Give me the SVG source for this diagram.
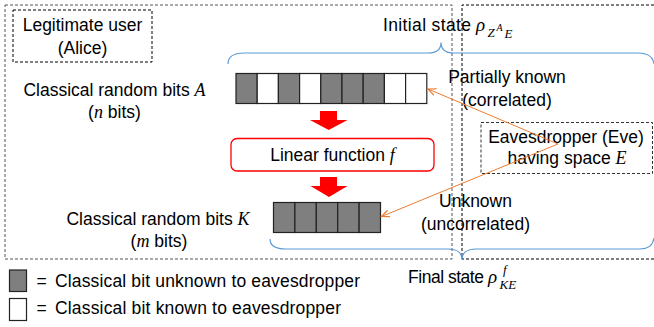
<svg xmlns="http://www.w3.org/2000/svg" width="654" height="327" viewBox="0 0 654 327">
<style>
.t{font-family:"Liberation Sans",Arial,sans-serif;font-size:17.5px;fill:#000}
.m{font-family:"Liberation Serif","Times New Roman",serif;font-style:italic;fill:#000}
.dash{fill:none;stroke:#333;stroke-width:1;stroke-dasharray:3 2}
.g{fill:#7f7f7f;stroke:#222;stroke-width:1.2}
.w{fill:#fff;stroke:#222;stroke-width:1.2}
.brace{fill:none;stroke:#5b9bd5;stroke-width:1.2}
.red{fill:#ff0000}
.conn{fill:none;stroke:#ed7d31;stroke-width:1}
</style>
<defs>
<marker id="ah" markerUnits="userSpaceOnUse" markerWidth="10" markerHeight="10" refX="8" refY="4" orient="auto">
<path d="M0,0.5 L8,4 L0,7.5" fill="none" stroke="#ed7d31" stroke-width="1.2"/>
</marker>
</defs>

<g id="alice-region">
<rect class="dash" x="5" y="5" width="447" height="254" style="stroke:#555"/>
</g>
<g id="eve-region">
<path class="dash" d="M654,5 L462,5 L462,259 L654,259" style="stroke:#000"/>
</g>

<g id="legitimate-user">
<rect class="dash" x="13" y="10" width="139" height="52" style="stroke:#000"/>
<text class="t" x="82.5" y="31" text-anchor="middle">Legitimate user</text>
<text class="t" x="82.5" y="54" text-anchor="middle">(Alice)</text>
</g>

<g id="label-A">
<text class="t" x="114.5" y="96" text-anchor="middle">Classical random bits <tspan class="m" font-size="18">A</tspan></text>
<text class="t" x="114.5" y="118" text-anchor="middle">(<tspan class="m" font-size="18">n</tspan> bits)</text>
</g>

<g id="bits-A">
<rect class="g" x="236" y="73.5" width="21.2" height="30"/>
<rect class="w" x="257.2" y="73.5" width="21.2" height="30"/>
<rect class="g" x="278.4" y="73.5" width="21.2" height="30"/>
<rect class="w" x="299.6" y="73.5" width="21.2" height="30"/>
<rect class="g" x="320.8" y="73.5" width="21.2" height="30"/>
<rect class="g" x="342" y="73.5" width="21.2" height="30"/>
<rect class="g" x="363.2" y="73.5" width="21.2" height="30"/>
<rect class="w" x="384.4" y="73.5" width="21.2" height="30"/>
<rect class="w" x="405.6" y="73.5" width="21.2" height="30"/>
</g>

<g id="arrow-1">
<polygon class="red" points="320,111 337,111 337,120 347.5,120 328.7,130 310,120 320,120"/>
</g>

<g id="linear-function">
<rect x="231" y="138.5" width="203" height="32.5" rx="6" ry="6" fill="#fff" stroke="#ff0000" stroke-width="1.3"/>
<text class="t" x="332.5" y="161" text-anchor="middle">Linear function <tspan class="m" font-size="18">f</tspan></text>
</g>

<g id="arrow-2">
<polygon class="red" points="320,177 337,177 337,186 347.5,186 329,197 310.5,186 320,186"/>
</g>

<g id="bits-K">
<rect class="g" x="273.5" y="202.5" width="21.4" height="30"/>
<rect class="g" x="294.9" y="202.5" width="21.4" height="30"/>
<rect class="g" x="316.3" y="202.5" width="21.4" height="30"/>
<rect class="g" x="337.7" y="202.5" width="21.4" height="30"/>
<rect class="g" x="359.1" y="202.5" width="21.4" height="30"/>
</g>

<g id="label-K">
<text class="t" x="158" y="225" text-anchor="middle">Classical random bits <tspan class="m" font-size="18">K</tspan></text>
<text class="t" x="159" y="247" text-anchor="middle">(<tspan class="m" font-size="18">m</tspan> bits)</text>
</g>

<g id="braces">
<path class="brace" d="M228,64 C228,57 233,53 244,53 L428,53 C437,53 441,49 441,42.5 C441,49 445,53 454,53 L638,53 C648,53 653,57 654,64"/>
<path class="brace" d="M270,239 C270,246 275,249 286,249 L448,249 C457,249 462,253 462,259.5 C462,253 467,249 476,249 L640,249 C648,249 653,245 654,238"/>
</g>

<g id="initial-state">
<text class="t" x="383" y="31" textLength="88" lengthAdjust="spacing">Initial state</text>
<text class="m" x="476" y="31" font-size="19">ρ</text>
<text class="m" x="487.5" y="36.5" font-size="13">Z</text>
<text class="m" x="496.5" y="31" font-size="10">A</text>
<text class="m" x="504.5" y="37.5" font-size="13">E</text>
</g>

<g id="final-state">
<text class="t" x="408" y="283" textLength="76" lengthAdjust="spacing">Final state</text>
<text class="m" x="488" y="283" font-size="19">ρ</text>
<text class="m" x="503" y="274" font-size="13">f</text>
<text class="m" x="499.5" y="289" font-size="13">KE</text>
</g>

<g id="partially-known">
<text class="t" x="507" y="83" text-anchor="middle">Partially known</text>
<text class="t" x="507" y="106" text-anchor="middle">(correlated)</text>
</g>

<g id="unknown">
<text class="t" x="475.5" y="207" text-anchor="middle">Unknown</text>
<text class="t" x="475.5" y="230" text-anchor="middle">(uncorrelated)</text>
</g>

<g id="eve">
<rect class="dash" x="481" y="122.5" width="171.5" height="51" style="stroke:#333"/>
<text class="t" x="566" y="143" text-anchor="middle">Eavesdropper (Eve)</text>
<text class="t" x="567" y="164" text-anchor="middle">having space <tspan class="m" font-size="18">E</tspan></text>
</g>

<g id="connectors">
<path class="conn" d="M558,144 L428,89" marker-end="url(#ah)"/>
<path class="conn" d="M558,144 L381.5,216.5" marker-end="url(#ah)"/>
</g>

<g id="legend">
<rect class="g" x="9.5" y="270" width="17" height="21.5"/>
<text class="t" x="36.5" y="287">=</text>
<text class="t" x="55" y="287" textLength="305" lengthAdjust="spacing">Classical bit unknown to eavesdropper</text>
<rect class="w" x="9.5" y="298.5" width="17" height="22"/>
<text class="t" x="36.5" y="314">=</text>
<text class="t" x="55" y="314" textLength="286" lengthAdjust="spacing">Classical bit known to eavesdropper</text>
</g>
</svg>
